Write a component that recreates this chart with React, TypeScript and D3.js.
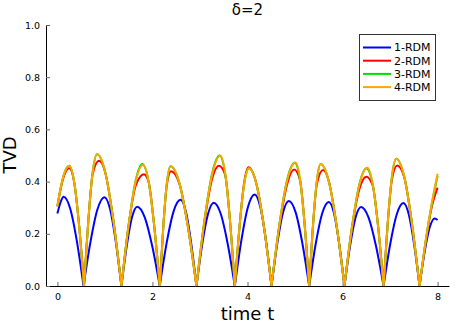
import React, { useEffect, useRef } from "react";
import * as d3 from "d3";

// labels and ticks
const title = "δ=2";
const xLabel = "time t";
const yLabel = "TVD";
const xTicks = [0, 2, 4, 6, 8];
const yTicks = [0, 0.2, 0.4, 0.6, 0.8, 1.0];
const seriesNames = ["1-RDM", "2-RDM", "3-RDM", "4-RDM"];
const seriesColors = ["#0000ff", "#ff0000", "#00dd00", "#ffa500"];

// [time, TVD]; zeros mark the cusps
const rdm1: [number, number][] = [
  [0, 0.278], [0.065, 0.32], [0.13, 0.342], [0.27, 0.296], [0.41, 0.171], [0.55, 0],
  [0.697, 0.17], [0.843, 0.294], [0.99, 0.34], [1.109, 0.294], [1.228, 0.17], [1.347, 0],
  [1.458, 0.152], [1.569, 0.263], [1.68, 0.304], [1.838, 0.263], [1.996, 0.152], [2.154, 0],
  [2.299, 0.165], [2.445, 0.286], [2.59, 0.33], [2.702, 0.286], [2.814, 0.165], [2.926, 0],
  [3.047, 0.16], [3.169, 0.276], [3.29, 0.319], [3.438, 0.276], [3.585, 0.16], [3.733, 0],
  [3.872, 0.176], [4.011, 0.304], [4.15, 0.351], [4.268, 0.304], [4.387, 0.176], [4.505, 0],
  [4.627, 0.163], [4.748, 0.282], [4.87, 0.326], [5.013, 0.282], [5.155, 0.163], [5.298, 0],
  [5.435, 0.161], [5.573, 0.279], [5.71, 0.322], [5.82, 0.279], [5.93, 0.161], [6.04, 0],
  [6.157, 0.152], [6.273, 0.262], [6.39, 0.303], [6.548, 0.262], [6.705, 0.152], [6.863, 0],
  [7.002, 0.159], [7.141, 0.275], [7.28, 0.318], [7.393, 0.275], [7.507, 0.159], [7.62, 0],
  [7.727, 0.13], [7.833, 0.224], [7.94, 0.259], [8, 0.253],
];

const rdm2: [number, number][] = [
  [0, 0.305], [0.08, 0.382], [0.16, 0.432], [0.25, 0.451], [0.353, 0.397], [0.457, 0.231], [0.56, 0],
  [0.652, 0.253], [0.743, 0.43], [0.877, 0.48], [1.006, 0.435], [1.176, 0.253], [1.347, 0],
  [1.498, 0.232], [1.649, 0.385], [1.82, 0.428], [1.918, 0.4], [2.036, 0.232], [2.154, 0],
  [2.229, 0.23], [2.305, 0.39], [2.39, 0.44], [2.562, 0.395], [2.744, 0.23], [2.926, 0],
  [3.094, 0.245], [3.262, 0.415], [3.4, 0.461], [3.531, 0.425], [3.632, 0.25], [3.733, 0],
  [3.832, 0.228], [3.931, 0.398], [4.02, 0.455], [4.188, 0.391], [4.347, 0.226], [4.505, 0],
  [4.673, 0.232], [4.842, 0.395], [4.98, 0.446], [5.106, 0.405], [5.202, 0.237], [5.298, 0],
  [5.379, 0.234], [5.459, 0.39], [5.59, 0.444], [5.707, 0.404], [5.873, 0.234], [6.04, 0],
  [6.2, 0.225], [6.36, 0.375], [6.5, 0.419], [6.634, 0.385], [6.749, 0.227], [6.863, 0],
  [6.952, 0.244], [7.041, 0.41], [7.15, 0.462], [7.293, 0.42], [7.457, 0.244], [7.62, 0],
  [7.75, 0.17], [7.88, 0.305], [8, 0.377],
];

const rdm3: [number, number][] = [
  [0, 0.306], [0.08, 0.386], [0.16, 0.439], [0.25, 0.461], [0.353, 0.399], [0.457, 0.231], [0.56, 0],
  [0.652, 0.253], [0.743, 0.437], [0.835, 0.505], [1.006, 0.437], [1.176, 0.253], [1.347, 0],
  [1.498, 0.232], [1.649, 0.406], [1.785, 0.467], [1.918, 0.4], [2.036, 0.231], [2.154, 0],
  [2.229, 0.23], [2.305, 0.398], [2.38, 0.459], [2.562, 0.398], [2.744, 0.23], [2.926, 0],
  [3.094, 0.252], [3.262, 0.437], [3.41, 0.5], [3.531, 0.428], [3.632, 0.248], [3.733, 0],
  [3.832, 0.226], [3.931, 0.391], [4.03, 0.451], [4.188, 0.391], [4.347, 0.226], [4.505, 0],
  [4.673, 0.238], [4.842, 0.414], [4.99, 0.472], [5.106, 0.405], [5.202, 0.235], [5.298, 0],
  [5.379, 0.234], [5.459, 0.404], [5.54, 0.467], [5.707, 0.404], [5.873, 0.234], [6.04, 0],
  [6.2, 0.228], [6.36, 0.395], [6.5, 0.451], [6.634, 0.39], [6.749, 0.226], [6.863, 0],
  [6.952, 0.244], [7.041, 0.423], [7.13, 0.488], [7.293, 0.423], [7.457, 0.244], [7.62, 0],
  [7.75, 0.173], [7.88, 0.315], [8, 0.422],
];

const rdm4: [number, number][] = [
  [0, 0.306], [0.08, 0.386], [0.16, 0.439], [0.25, 0.461], [0.353, 0.399], [0.457, 0.231], [0.56, 0],
  [0.652, 0.253], [0.743, 0.437], [0.835, 0.505], [1.006, 0.437], [1.176, 0.253], [1.347, 0],
  [1.498, 0.232], [1.649, 0.402], [1.8, 0.464], [1.918, 0.402], [2.036, 0.232], [2.154, 0],
  [2.229, 0.23], [2.305, 0.398], [2.38, 0.459], [2.562, 0.398], [2.744, 0.23], [2.926, 0],
  [3.094, 0.25], [3.262, 0.432], [3.43, 0.499], [3.531, 0.432], [3.632, 0.25], [3.733, 0],
  [3.832, 0.226], [3.931, 0.391], [4.03, 0.451], [4.188, 0.391], [4.347, 0.226], [4.505, 0],
  [4.673, 0.237], [4.842, 0.41], [5.01, 0.473], [5.106, 0.41], [5.202, 0.237], [5.298, 0],
  [5.379, 0.234], [5.459, 0.404], [5.54, 0.467], [5.707, 0.404], [5.873, 0.234], [6.04, 0],
  [6.2, 0.227], [6.36, 0.392], [6.52, 0.453], [6.634, 0.392], [6.749, 0.227], [6.863, 0],
  [6.952, 0.244], [7.041, 0.423], [7.13, 0.488], [7.293, 0.423], [7.457, 0.244], [7.62, 0],
  [7.75, 0.175], [7.88, 0.32], [8, 0.43],
];

const allSeries = [rdm1, rdm2, rdm3, rdm4];

const W = 458;
const H = 327;
const FONT = "DejaVu Sans, sans-serif";

// cut a series into arches at its zeros so the cusps stay sharp
const splitArches = (pts: [number, number][]) => {
  const segs: [number, number][][] = [];
  let cur: [number, number][] = [];
  pts.forEach((p) => {
    cur.push(p);
    if (p[1] === 0 && cur.length > 1) {
      segs.push(cur);
      cur = [p];
    }
  });
  if (cur.length > 1) segs.push(cur);
  return segs;
};

export default function App() {
  const svgRef = useRef<SVGSVGElement>(null);

  useEffect(() => {
    const svg = d3.select(svgRef.current);
    svg.selectAll("*").remove();

    const x = d3.scaleLinear().domain([-0.24, 8.24]).range([46, 449]);
    const y = d3.scaleLinear().domain([0, 1]).range([286, 25]);

    svg.append("rect").attr("width", W).attr("height", H).attr("fill", "#fff");

    // axes, ticks pointing inward
    const gx = svg
      .append("g")
      .attr("transform", "translate(0,286)")
      .call(d3.axisBottom(x).tickValues(xTicks).tickFormat(d3.format("d")).tickSizeInner(-4).tickSizeOuter(0).tickPadding(7));
    const gy = svg
      .append("g")
      .attr("transform", "translate(46,0)")
      .call(d3.axisLeft(y).tickValues(yTicks).tickFormat(d3.format(".1f")).tickSizeInner(-4).tickSizeOuter(0).tickPadding(6));

    [gx, gy].forEach((g) => {
      g.attr("font-family", FONT).attr("font-size", 9.5);
      g.select(".domain").attr("stroke", "#000").attr("stroke-width", 1);
      g.selectAll(".tick line").attr("stroke", "#666");
      g.selectAll(".tick text").attr("fill", "#000");
    });

    // data lines
    const line = d3
      .line<[number, number]>()
      .x((d) => x(d[0]))
      .y((d) => y(d[1]))
      .curve(d3.curveMonotoneX);

    allSeries.forEach((s, i) => {
      const d = splitArches(s).map((seg) => line(seg)).join("");
      svg
        .append("path")
        .attr("d", d)
        .attr("fill", "none")
        .attr("stroke", seriesColors[i])
        .attr("stroke-width", 2)
        .attr("stroke-linejoin", "round");
    });

    // legend
    const lg = svg.append("g");
    lg.append("rect")
      .attr("x", 359.5)
      .attr("y", 34.5)
      .attr("width", 76)
      .attr("height", 66)
      .attr("fill", "#fff")
      .attr("stroke", "#333");
    seriesNames.forEach((name, i) => {
      const yy = 47.5 + i * 13.2;
      lg.append("line")
        .attr("x1", 363)
        .attr("x2", 391)
        .attr("y1", yy)
        .attr("y2", yy)
        .attr("stroke", seriesColors[i])
        .attr("stroke-width", 2);
      lg.append("text")
        .attr("x", 394)
        .attr("y", yy)
        .attr("dy", "0.35em")
        .attr("font-family", FONT)
        .attr("font-size", 11)
        .text(name);
    });

    // titles
    svg.append("text")
      .attr("x", 247.5)
      .attr("y", 15)
      .attr("text-anchor", "middle")
      .attr("font-family", FONT)
      .attr("font-size", 15)
      .text(title);

    svg.append("text")
      .attr("x", 247.5)
      .attr("y", 320)
      .attr("text-anchor", "middle")
      .attr("font-family", FONT)
      .attr("font-size", 18)
      .text(xLabel);

    svg.append("text")
      .attr("transform", "translate(16,155) rotate(-90)")
      .attr("text-anchor", "middle")
      .attr("font-family", FONT)
      .attr("font-size", 18)
      .text(yLabel);
  }, []);

  return (
    <svg
      ref={svgRef}
      width={W}
      height={H}
      style={{ position: "absolute", left: 0, top: 0, display: "block" }}
    />
  );
}
